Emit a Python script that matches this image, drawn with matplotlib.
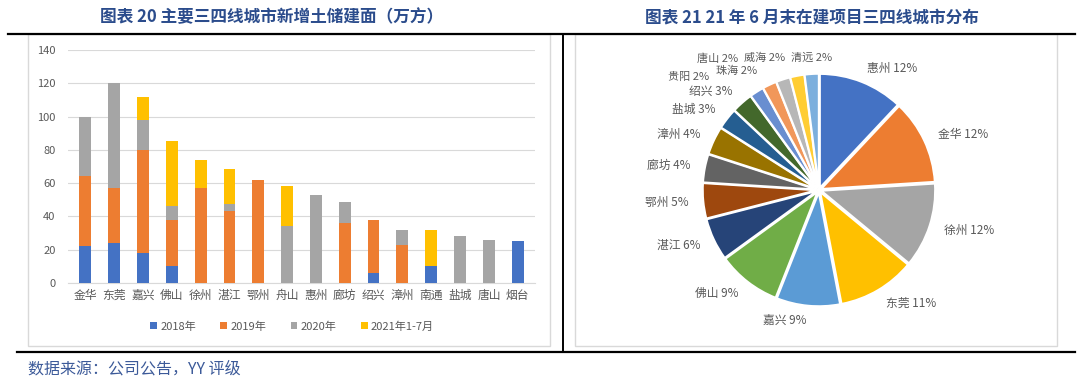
import matplotlib.pyplot as plt
from matplotlib.patches import Rectangle
from matplotlib.lines import Line2D
import numpy as np

plt.rcParams['font.family'] = ['Noto Sans CJK SC', 'DejaVu Sans']

# left chart data (万方)
cities = ['金华', '东莞', '嘉兴', '佛山', '徐州', '湛江', '鄂州', '舟山',
          '惠州', '廊坊', '绍兴', '漳州', '南通', '盐城', '唐山', '烟台']
y2018 = [22, 24, 18, 10, 0, 0, 0, 0, 0, 0, 6, 0, 10, 0, 0, 25]
y2019 = [42, 33, 62, 28, 57, 43, 62, 0, 0, 36, 32, 23, 0, 0, 0, 0]
y2020 = [36, 63, 18, 8.5, 0, 4.5, 0, 34, 53, 12.5, 0, 9, 0, 28, 26, 0]
y2021 = [0, 0, 14, 39, 17, 21, 0, 24, 0, 0, 0, 0, 22, 0, 0, 0]
series_names = ['2018年', '2019年', '2020年', '2021年1-7月']
bar_colors = ['#4472C4', '#ED7D31', '#A5A5A5', '#FFC000']

# right chart data (%)
pie_cities = ['惠州', '金华', '徐州', '东莞', '嘉兴', '佛山', '湛江', '鄂州', '廊坊',
              '漳州', '盐城', '绍兴', '贵阳', '珠海', '唐山', '威海', '清远']
pie_share = [12, 12, 12, 11, 9, 9, 6, 5, 4, 4, 3, 3, 2, 2, 2, 2, 2]
pie_colors = ['#4472C4', '#ED7D31', '#A5A5A5', '#FFC000', '#5B9BD5', '#70AD47',
              '#264478', '#9E480E', '#636363', '#997300', '#255E91', '#43682B',
              '#698ED0', '#F1975A', '#B7B7B7', '#FFCD33', '#7CAFDD']

W, H = 1080, 385
fig = plt.figure(figsize=(W / 100, H / 100), dpi=100)


def fx(px):
    return px / W


def fy(py):
    return 1 - py / H


# panel frames and rules
fig.patches.append(Rectangle((fx(28), fy(346)), fx(522), 312 / H, transform=fig.transFigure,
                             fill=False, edgecolor='#D9D9D9', linewidth=1))
fig.patches.append(Rectangle((fx(575), fy(346)), fx(482), 312 / H, transform=fig.transFigure,
                             fill=False, edgecolor='#D9D9D9', linewidth=1))
fig.lines.append(Line2D([fx(8), fx(1075)], [fy(34), fy(34)], transform=fig.transFigure,
                        color='black', linewidth=1.6))
fig.lines.append(Line2D([fx(17), fx(1075)], [fy(352), fy(352)], transform=fig.transFigure,
                        color='black', linewidth=1.6))
fig.lines.append(Line2D([fx(563), fx(563)], [fy(34), fy(352)], transform=fig.transFigure,
                        color='black', linewidth=1.4))

title_color = '#2B4C8C'
fig.text(fx(272), fy(17), '图表 20 主要三四线城市新增土储建面（万方）', ha='center', va='center',
         fontsize=12, fontweight='bold', color=title_color)
fig.text(fx(812), fy(17), '图表 21 21 年 6 月末在建项目三四线城市分布', ha='center', va='center',
         fontsize=12, fontweight='bold', color=title_color)
fig.text(fx(28), fy(369), '数据来源：公司公告，YY 评级', ha='left', va='center',
         fontsize=11.5, color='#3C5A99')

# bar chart
ax = fig.add_axes([fx(68), fy(283), fx(467), 233 / H])
x = np.arange(len(cities))
bottom = np.zeros(len(cities))
for vals, name, col in zip([y2018, y2019, y2020, y2021], series_names, bar_colors):
    vals = np.array(vals, dtype=float)
    ax.bar(x, vals, 0.41, bottom=bottom, color=col, label=name, zorder=3)
    bottom += vals

ax.set_ylim(0, 140)
ax.set_yticks(range(0, 141, 20))
ax.set_xlim(-0.6, len(cities) - 0.4)
ax.set_xticks(x)
ax.set_xticklabels(cities, fontsize=8.5, color='#595959')
ax.tick_params(axis='y', labelsize=8, labelcolor='#595959', length=0, pad=9)
ax.tick_params(axis='x', length=0, pad=4)
ax.grid(axis='y', color='#D9D9D9', linewidth=0.8, zorder=0)
for s in ['top', 'right', 'left']:
    ax.spines[s].set_visible(False)
ax.spines['bottom'].set_color('#D9D9D9')
ax.legend(loc='center', bbox_to_anchor=(0.48, -0.187), ncol=4, frameon=False,
          fontsize=8, labelcolor='#595959', handlelength=0.6, handleheight=0.6,
          handletextpad=0.3, columnspacing=2.2)

# pie chart
cx, cy, rpx = 819, 190, 114
half = 150
ax2 = fig.add_axes([fx(cx - half), fy(cy + half), fx(2 * half), 2 * half / H])
lim = half / rpx
wedges, texts = ax2.pie(pie_share, colors=pie_colors, startangle=90, counterclock=False,
                        explode=[0.02] * len(pie_share),
                        labels=[f'{c} {p}%' for c, p in zip(pie_cities, pie_share)],
                        labeldistance=1.13,
                        wedgeprops=dict(edgecolor='white', linewidth=1.5),
                        textprops=dict(fontsize=8.5, color='#595959'))
for t in texts:
    t.set_clip_on(False)

# crowded small-slice labels at the top: place them by hand (pixel positions)
small_pos = {'贵阳': (689, 77), '珠海': (737, 71), '唐山': (718, 59),
             '威海': (765, 58), '清远': (812, 58)}
for t, c in zip(texts, pie_cities):
    if c in small_pos:
        px, py = small_pos[c]
        t.set_position(((px - cx) / rpx, (cy - py) / rpx))
        t.set_ha('center')
        t.set_va('center')
        t.set_fontsize(8)

ax2.set_xlim(-lim, lim)
ax2.set_ylim(-lim, lim)
ax2.axis('off')

fig.savefig('out.png', dpi=100)
